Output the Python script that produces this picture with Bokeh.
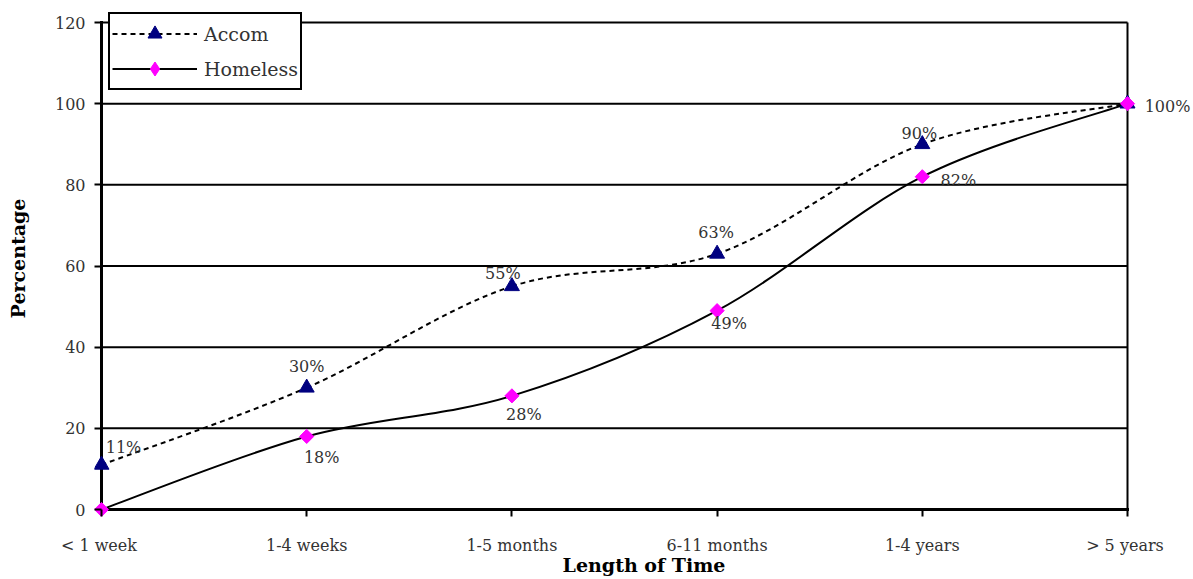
import math

from bokeh.core.properties import value
from bokeh.embed import file_html
from bokeh.models import (ColumnDataSource, FixedTicker, LabelSet, Legend,
                          LegendItem, Range1d)
from bokeh.plotting import figure
from bokeh.resources import INLINE

# ---- data -------------------------------------------------------------
categories = ["<  1 week", "1-4 weeks", "1-5 months", "6-11 months",
              "1-4 years", ">  5 years"]
accom = [11, 30, 55, 63, 90, 100]
homeless = [0, 18, 28, 49, 82, 100]
y_ticks = [0, 20, 40, 60, 80, 100, 120]

# which points carry a percentage label
accom_labelled = [True, True, True, True, True, False]
homeless_labelled = [False, True, True, True, True, True]

# ---- label placement (screen px, +y is up) ---------------------------
accom_label_dx = [22, 0, -9, -1, -3, 0]
accom_label_dy = [17, 21, 13, 21, 11, 0]
homeless_label_dx = [0, 15, 12, 12, 36, 40]
homeless_label_dy = [0, -21, -19, -13, -4, -3]

# ---- layout -----------------------------------------------------------
W, H = 1193, 579
AX_L, AX_R = 101, 1127      # pixel columns of first / last category
AX_T, AX_B = 22, 509        # pixel rows of 120 and 0
# the frame reaches a few px past the axes so edge markers are not cut
FRAME_L, FRAME_R, FRAME_T, FRAME_B = 94, W, 0, 516

n = len(categories)
x_max = n - 1
y_max = y_ticks[-1]
ux = x_max / (AX_R - AX_L)   # data units per px
uy = y_max / (AX_B - AX_T)

x_range = Range1d(-(AX_L - FRAME_L) * ux, x_max + (FRAME_R - AX_R) * ux)
y_range = Range1d(-(FRAME_B - AX_B) * uy, y_max + (AX_T - FRAME_T) * uy)

FONT = "DejaVu Serif"
TEXT = "#333333"

p = figure(width=W, height=H, x_range=x_range, y_range=y_range,
           output_backend="svg", toolbar_location=None,
           min_border_left=FRAME_L, min_border_right=W - FRAME_R,
           min_border_top=FRAME_T, min_border_bottom=H - FRAME_B)
p.outline_line_color = None
p.xgrid.visible = False
p.ygrid.visible = False
p.background_fill_color = "white"
p.border_fill_color = "white"

xs = list(range(n))

# ---- axes (ticks point inward from the frame edge onto the drawn rules) --
xa = p.xaxis[0]
xa.bounds = (0, x_max)
xa.ticker = FixedTicker(ticks=xs)
xa.major_label_overrides = {i: c for i, c in enumerate(categories)}
xa.axis_line_color = None
xa.major_tick_out = 0
xa.major_tick_in = FRAME_B - AX_B
xa.major_tick_line_width = 2
xa.minor_tick_out = 0
xa.minor_tick_in = 0
xa.major_label_standoff = 19
xa.major_label_text_font = FONT
xa.major_label_text_font_size = "16px"
xa.major_label_text_color = TEXT
xa.axis_label = "Length of Time"
xa.axis_label_standoff = -4
xa.axis_label_text_font = FONT
xa.axis_label_text_font_size = "19px"
xa.axis_label_text_font_style = "bold"
xa.axis_label_text_color = "black"

ya = p.yaxis[0]
ya.bounds = (0, y_max)
ya.ticker = FixedTicker(ticks=y_ticks)
ya.axis_line_color = None
ya.major_tick_out = 0
ya.major_tick_in = AX_L - FRAME_L
ya.major_tick_line_width = 2
ya.minor_tick_out = 0
ya.minor_tick_in = 0
ya.major_label_standoff = 9
ya.major_label_text_font = FONT
ya.major_label_text_font_size = "16px"
ya.major_label_text_color = TEXT
ya.axis_label = "Percentage"
ya.axis_label_standoff = 23
ya.axis_label_text_font = FONT
ya.axis_label_text_font_size = "19px"
ya.axis_label_text_font_style = "bold"
ya.axis_label_text_color = "black"

# horizontal rules at every tick above zero, the right-hand border,
# and the two axis lines
grid_y = y_ticks[1:]
p.segment(x0=[0] * len(grid_y), y0=grid_y, x1=[x_max] * len(grid_y),
          y1=grid_y, line_color="black", line_width=2)
p.segment(x0=[x_max], y0=[0], x1=[x_max], y1=[y_max],
          line_color="black", line_width=2)
p.segment(x0=[0, 0], y0=[0, 0], x1=[x_max, 0], y1=[0, y_max],
          line_color="black", line_width=3, line_cap="square")


# ---- smoothed series (Catmull-Rom as cubic Bezier pieces) ---------------
def smooth_pieces(xv, yv):
    m = len(xv)
    d = dict(x0=[], y0=[], x1=[], y1=[], cx0=[], cy0=[], cx1=[], cy1=[])
    for i in range(m - 1):
        ip = max(i - 1, 0)
        inn = min(i + 2, m - 1)
        d["x0"].append(xv[i])
        d["y0"].append(yv[i])
        d["x1"].append(xv[i + 1])
        d["y1"].append(yv[i + 1])
        d["cx0"].append(xv[i] + (xv[i + 1] - xv[ip]) / 6)
        d["cy0"].append(yv[i] + (yv[i + 1] - yv[ip]) / 6)
        d["cx1"].append(xv[i + 1] - (xv[inn] - xv[i]) / 6)
        d["cy1"].append(yv[i + 1] - (yv[inn] - yv[i]) / 6)
    return ColumnDataSource(d)


accom_line = p.bezier(x0="x0", y0="y0", x1="x1", y1="y1", cx0="cx0",
                      cy0="cy0", cx1="cx1", cy1="cy1",
                      source=smooth_pieces(xs, accom),
                      line_color="black", line_width=2, line_dash="5 4")
homeless_line = p.bezier(x0="x0", y0="y0", x1="x1", y1="y1", cx0="cx0",
                         cy0="cy0", cx1="cx1", cy1="cy1",
                         source=smooth_pieces(xs, homeless),
                         line_color="black", line_width=2)

accom_pts = p.scatter(xs, accom, marker="triangle", size=15,
                      fill_color="#000080", line_color="#000080")
# diamond-marker layer used as the legend swatch (legend markers are drawn
# unrotated); it sits fully underneath the rotated squares drawn next
homeless_key = p.scatter(xs, homeless, marker="diamond", size=10,
                         fill_color="#FF00FF", line_color="#FF00FF")
homeless_pts = p.scatter(xs, homeless, marker="square", size=10,
                         angle=math.pi / 4,
                         fill_color="#FF00FF", line_color="#FF00FF")


# ---- value labels -----------------------------------------------------
def label_source(vals, keep, dx, dy):
    idx = [i for i, k in enumerate(keep) if k]
    return ColumnDataSource(dict(
        x=[xs[i] for i in idx],
        y=[vals[i] for i in idx],
        text=[f"{vals[i]}%" for i in idx],
        dx=[dx[i] for i in idx],
        dy=[dy[i] for i in idx],
    ))


for vals, keep, dx, dy in ((accom, accom_labelled, accom_label_dx, accom_label_dy),
                           (homeless, homeless_labelled, homeless_label_dx,
                            homeless_label_dy)):
    p.add_layout(LabelSet(x="x", y="y", text="text", x_offset="dx",
                          y_offset="dy", source=label_source(vals, keep, dx, dy),
                          text_align="center", text_baseline="middle",
                          text_font=value(FONT), text_font_size=value("16px"),
                          text_color=value(TEXT)))

# ---- legend -----------------------------------------------------------
legend = Legend(
    items=[LegendItem(label="Accom", renderers=[accom_line, accom_pts]),
           LegendItem(label="Homeless", renderers=[homeless_line, homeless_key])],
    location=(108 - FRAME_L, FRAME_B - 90),
    orientation="vertical",
    glyph_width=85, glyph_height=35, label_height=35, spacing=0, padding=2,
    margin=0, label_standoff=7,
    label_text_font=FONT, label_text_font_size="19px", label_text_color=TEXT,
    border_line_color="black", border_line_width=2, border_line_alpha=1.0,
    background_fill_color="white", background_fill_alpha=1.0,
)
p.add_layout(legend)

open("out.html", "w").write(file_html(p, INLINE))
